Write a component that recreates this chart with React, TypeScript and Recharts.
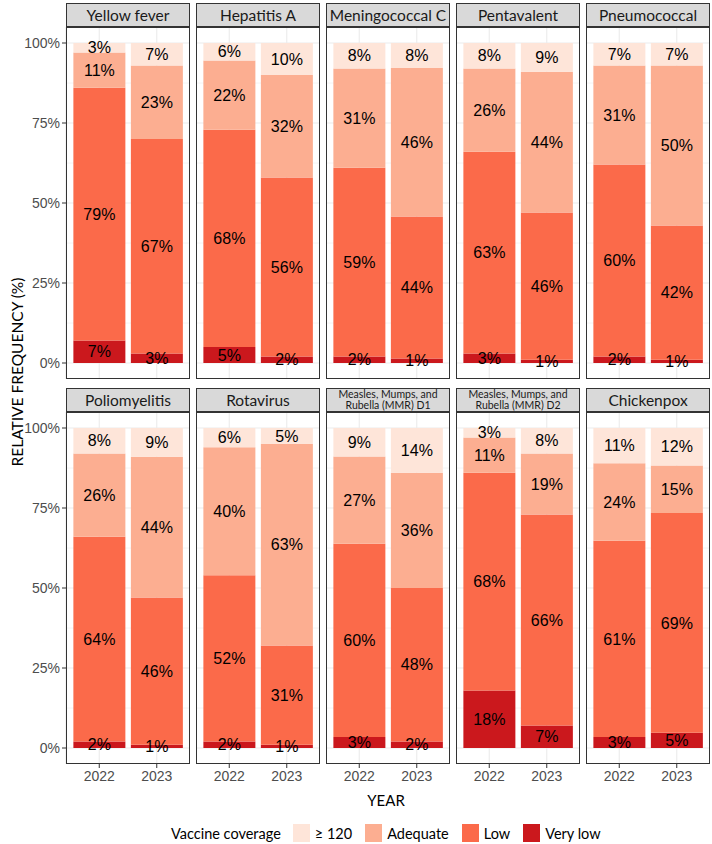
import React from "react";
import { BarChart, Bar, XAxis, YAxis, CartesianGrid, LabelList } from "recharts";

const vaccines = [
  "Yellow fever",
  "Hepatitis A",
  "Meningococcal C",
  "Pentavalent",
  "Pneumococcal",
  "Poliomyelitis",
  "Rotavirus",
  "Measles, Mumps, and\nRubella (MMR) D1",
  "Measles, Mumps, and\nRubella (MMR) D2",
  "Chickenpox",
];
const years = ["2022", "2023"];

// values per vaccine: [2022, 2023]
const veryLow = [[7, 3], [5, 2], [2, 1.4], [3, 1], [2, 1], [2, 1], [2, 1], [3.4, 2], [18, 7], [3.4, 4.8]];
const low = [[79, 67], [67.9, 56], [59, 44.4], [63, 46], [60, 42], [64, 46], [52, 31], [60.4, 48], [68, 66], [61.4, 68.6]];
const adequate = [[11, 23], [21.6, 32], [31, 46.4], [26, 44], [31, 50], [26, 44], [40, 63], [27.3, 36], [11, 19], [24.2, 14.9]];
const above120 = [[3, 7], [5.5, 10], [8, 7.8], [8, 9], [7, 7], [8, 9], [6, 5], [8.9, 14], [3, 8], [11, 11.7]];

const yTicks = [0, 25, 50, 75, 100];
const yMinor = [12.5, 37.5, 62.5, 87.5];

const categories = [
  { key: "veryLow", label: "Very low", color: "#CB181D" },
  { key: "low", label: "Low", color: "#FB6A4A" },
  { key: "adequate", label: "Adequate", color: "#FCAE91" },
  { key: "above120", label: "\u2265 120", color: "#FEE5D9" },
];
const legendOrder = ["above120", "adequate", "low", "veryLow"];

const PANEL_W = 124;
const PANEL_H = 352;
const colLeft = [66, 196, 326, 456, 586];
const rowTop = [27, 412];
const YAX_W = 60;
const XAX_H = 30;
const TITLE_FONT = "Lato, 'Open Sans', sans-serif";
const NUM_FONT = "'Liberation Sans', Arial, sans-serif";

function Facet({ idx }: { idx: number }) {
  const r = Math.floor(idx / 5);
  const c = idx % 5;
  const data = years.map((y, j) => ({
    year: y,
    veryLow: veryLow[idx][j],
    low: low[idx][j],
    adequate: adequate[idx][j],
    above120: above120[idx][j],
  }));
  const showY = c === 0;
  const showX = r === 1;
  const left = showY ? colLeft[c] - YAX_W : colLeft[c];
  const top = rowTop[r];
  const width = PANEL_W + (showY ? YAX_W : 0);
  const height = PANEL_H + (showX ? XAX_H : 0);
  const lines = vaccines[idx].split("\n");
  const twoLine = lines.length > 1;
  return (
    <>
      <div
        style={{
          position: "absolute",
          left: colLeft[c],
          top: top - 24,
          width: PANEL_W - 2,
          height: 22,
          background: "#D9D9D9",
          border: "1px solid #333333",
          display: "flex",
          flexDirection: "column",
          alignItems: "center",
          justifyContent: "center",
          fontFamily: TITLE_FONT,
          color: "#1A1A1A",
          fontSize: twoLine ? 10.5 : 15.5,
          lineHeight: twoLine ? "11px" : "17px",
          whiteSpace: "nowrap",
        }}
      >
        {lines.map((l, k) => (
          <div key={k}>{l}</div>
        ))}
      </div>
      <div style={{ position: "absolute", left, top }}>
        <BarChart
          width={width}
          height={height}
          data={data}
          margin={{ top: 0, right: 0, bottom: 0, left: 0 }}
          barCategoryGap="5%"
        >
          <CartesianGrid
            stroke="#EBEBEB"
            strokeWidth={0.55}
            horizontalValues={yMinor}
            vertical={false}
          />
          <CartesianGrid stroke="#EBEBEB" strokeWidth={1.1} horizontalValues={yTicks} />
          <XAxis
            dataKey="year"
            type="category"
            hide={!showX}
            height={XAX_H}
            padding={{ left: 4.5, right: 4.5 }}
            axisLine={false}
            tickLine={{ stroke: "#333333" }}
            tickSize={4}
            tickMargin={3}
            tick={{ fill: "#4D4D4D", fontSize: 14, fontFamily: NUM_FONT }}
          />
          <YAxis
            type="number"
            domain={[-5, 105]}
            ticks={yTicks}
            hide={!showY}
            width={YAX_W}
            axisLine={false}
            tickLine={{ stroke: "#333333" }}
            tickSize={4}
            tickMargin={2}
            tickFormatter={(v: number) => `${v}%`}
            tick={{ fill: "#4D4D4D", fontSize: 14, fontFamily: NUM_FONT }}
            interval={0}
          />
          {categories.map((cat) => (
            <Bar key={cat.key} dataKey={cat.key} stackId="s" fill={cat.color} isAnimationActive={false}>
              <LabelList
                dataKey={cat.key}
                position="center"
                formatter={(v: any) => `${Math.round(Number(v))}%`}
                fill="#000000"
                stroke="none"
                fontSize={16}
                fontFamily={NUM_FONT}
              />
            </Bar>
          ))}
        </BarChart>
      </div>
      <div
        style={{
          position: "absolute",
          left: colLeft[c],
          top,
          width: PANEL_W - 2,
          height: PANEL_H - 2,
          border: "1px solid #333333",
          pointerEvents: "none",
        }}
      />
    </>
  );
}

export default function App() {
  return (
    <div
      style={{
        position: "absolute",
        left: 0,
        top: 0,
        width: 712,
        height: 844,
        background: "#FFFFFF",
        overflow: "hidden",
      }}
    >
      {vaccines.map((_, i) => (
        <Facet key={i} idx={i} />
      ))}
      <div
        style={{
          position: "absolute",
          left: 17 - 160,
          top: 372 - 10,
          width: 320,
          height: 20,
          transform: "rotate(-90deg)",
          textAlign: "center",
          fontFamily: TITLE_FONT,
          fontSize: 15.5,
          color: "#000",
          lineHeight: "20px",
        }}
      >
        RELATIVE FREQUENCY (%)
      </div>
      <div
        style={{
          position: "absolute",
          left: 286,
          top: 790,
          width: 200,
          textAlign: "center",
          fontFamily: TITLE_FONT,
          fontSize: 15,
          color: "#000",
          lineHeight: "20px",
        }}
      >
        YEAR
      </div>
      <div
        style={{
          position: "absolute",
          left: 171,
          top: 824,
          height: 18,
          display: "flex",
          alignItems: "center",
          fontFamily: TITLE_FONT,
          fontSize: 14.5,
          color: "#000",
          whiteSpace: "nowrap",
        }}
      >
        <span style={{ marginRight: 12 }}>Vaccine coverage</span>
        {legendOrder.map((k) => {
          const cat = categories.find((x) => x.key === k)!;
          return (
            <span key={k} style={{ display: "flex", alignItems: "center", marginRight: 13 }}>
              <span style={{ width: 17, height: 18, background: cat.color, display: "inline-block", marginRight: 5 }} />
              <span>{cat.label}</span>
            </span>
          );
        })}
      </div>
    </div>
  );
}
